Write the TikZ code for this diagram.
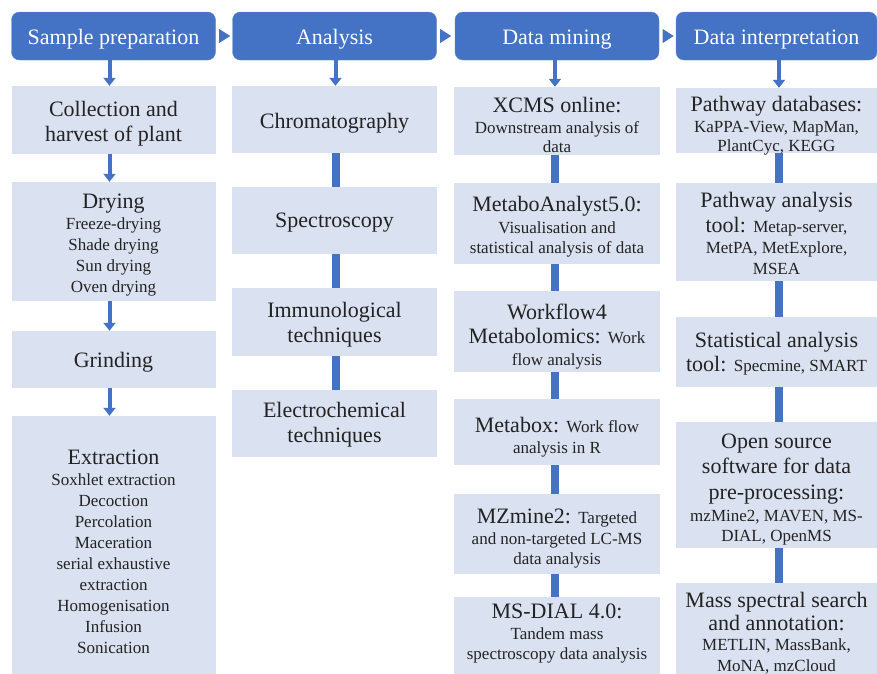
\documentclass[tikz,border=0pt]{standalone}
\usepackage{fontspec}
\setmainfont{Liberation Serif}
\usetikzlibrary{arrows.meta,calc}
\definecolor{hdr}{RGB}{68,114,196}
\definecolor{boxc}{RGB}{218,225,240}
\definecolor{txt}{RGB}{35,35,35}
\newcommand\BigT{\fontsize{22}{25}\selectfont}
\newcommand\SmT{\fontsize{17}{21}\selectfont}
% name, cx, cy, width, height, text style, first baseline, text
\newcommand\cbx[8]{%
  \node[cbox,minimum width=#4pt,minimum height=#5pt] (#1) at (#2,#3) {};
  \node[tbase,#6,anchor=north] (#1t) at (#2,#7-15) {#8};}
\begin{document}
\begin{tikzpicture}[x=1pt,y=-1pt,
 hdrbox/.style={rounded corners=8pt, fill=hdr, draw=hdr!85!white, text=white,
   font=\fontsize{22}{25}\selectfont, text height=17pt, text depth=0pt,
   minimum width=204pt, minimum height=48pt, inner sep=0pt},
 cbox/.style={fill=boxc, inner sep=0pt},
 tbase/.style={text=txt, align=center, inner sep=0pt},
 bigt/.style={font=\fontsize{22}{25}\selectfont},
 mixt/.style={font=\fontsize{17}{21}\selectfont},
 arr/.style={draw=hdr, line width=4pt, -{Triangle[width=12pt,length=8pt]}},
 bar/.style={draw=hdr, line width=8pt},
 tri/.style={fill=hdr}
]
\useasboundingbox (0,0) rectangle (877,673);
\clip (0,0) rectangle (877,673);

% headers
\node[hdrbox] (h1) at (113.5,36) {Sample preparation};
\node[hdrbox] (h2) at (334.5,36) {Analysis};
\node[hdrbox] (h3) at (557,36) {Data mining};
\node[hdrbox, minimum width=201pt] (h4) at (776.5,36) {Data interpretation};

\foreach \a in {h1,h2,h3}{
  \fill[tri] ($(\a.east)+(3.5,-7)$) -- ($(\a.east)+(14.5,0)$) -- ($(\a.east)+(3.5,7)$) -- cycle;
}

% column 1
\cbx{coll}{113.5}{120}{204}{68}{bigt}{116}{Collection and\\harvest of plant}
\cbx{dry}{113.5}{241.5}{204}{119}{mixt}{208.3}{\BigT Drying\\Freeze-drying\\Shade drying\\Sun drying\\Oven drying}
\cbx{grind}{113.5}{359.5}{204}{57}{bigt}{367}{Grinding}
\cbx{extr}{113.5}{546}{204}{260}{mixt}{465}{\BigT Extraction\\Soxhlet extraction\\Decoction\\Percolation\\Maceration\\serial exhaustive\\extraction\\Homogenisation\\Infusion\\Sonication}

% column 2
\cbx{chrom}{334.5}{119.5}{205}{67}{bigt}{128}{Chromatography}
\cbx{spec}{334.5}{220.5}{205}{67}{bigt}{228}{Spectroscopy}
\cbx{immu}{334.5}{322}{205}{68}{bigt}{317.5}{Immunological\\techniques}
\cbx{elec}{334.5}{423.5}{205}{67}{bigt}{417.5}{Electrochemical\\techniques}

% column 3
\cbx{xcms}{557}{121}{206}{68}{mixt}{111.7}{\BigT XCMS online:\\[0.5pt]Downstream analysis of\\[-2pt]data}
\cbx{mana}{557}{223.5}{206}{81}{mixt}{211}{\BigT MetaboAnalyst5.0:\\[1pt]Visualisation and\\[-1pt]statistical analysis of data}
\cbx{wf4}{557}{331.5}{206}{81}{mixt}{318.3}{\BigT Workflow4\\[4pt]\BigT Metabolomics: \SmT Work\\flow analysis}
\cbx{mbox}{557}{432}{206}{66}{mixt}{431.7}{\BigT Metabox: \SmT Work flow\\analysis in R}
\cbx{mzm}{557}{534}{206}{80}{mixt}{523.3}{\BigT MZmine2: \SmT Targeted\\[0.5pt]and non-targeted LC-MS\\[-1pt]data analysis}
\cbx{msd}{557}{636.5}{206}{79}{mixt}{618.3}{\BigT MS-DIAL 4.0:\\[0.5pt]Tandem mass\\[-1pt]spectroscopy data analysis}

% column 4
\cbx{pdb}{776.5}{120.5}{201}{65}{mixt}{110.7}{\BigT Pathway databases:\\KaPPA-View, MapMan,\\[-2pt]PlantCyc, KEGG}
\cbx{pat}{776.5}{232}{201}{98}{mixt}{207.3}{\BigT Pathway analysis\\[3.5pt]\BigT tool: \SmT Metap-server,\\MetPA, MetExplore,\\MSEA}
\cbx{sat}{776.5}{352}{201}{70}{mixt}{346.7}{\BigT Statistical analysis\\[3.5pt]\BigT tool: \SmT Specmine, SMART}
\cbx{oss}{776.5}{485}{201}{126}{mixt}{448.3}{\BigT Open source\\[4.5pt]\BigT software for data\\[5pt]\BigT pre-processing:\\[0.5pt]mzMine2, MAVEN, MS-\\[-1pt]DIAL, OpenMS}
\cbx{mss}{776.5}{629.5}{201}{93}{mixt}{606.7}{\BigT Mass spectral search\\[2.5pt]\BigT and annotation:\\[-1pt]METLIN, MassBank,\\MoNA, mzCloud}

% connectors
\draw[arr] ([xshift=-4pt]h1.south) -- ([xshift=-4pt]coll.north);
\draw[arr] ([xshift=-4pt]coll.south) -- ([xshift=-4pt]dry.north);
\draw[arr] ([xshift=-4pt]dry.south) -- ([xshift=-4pt]grind.north);
\draw[arr] ([xshift=-4pt]grind.south) -- ([xshift=-4pt]extr.north);

\draw[arr] ([xshift=1pt]h2.south) -- ([xshift=1pt]chrom.north);
\draw[bar] ([xshift=1pt]chrom.south) -- ([xshift=1pt]spec.north);
\draw[bar] ([xshift=1pt]spec.south) -- ([xshift=1pt]immu.north);
\draw[bar] ([xshift=1pt]immu.south) -- ([xshift=1pt]elec.north);

\draw[arr] ([xshift=-2pt]h3.south) -- ([xshift=-2pt]xcms.north);
\draw[bar] ([xshift=-2pt]xcms.south) -- ([xshift=-2pt]mana.north);
\draw[bar] ([xshift=-2pt]mana.south) -- ([xshift=-2pt]wf4.north);
\draw[bar] ([xshift=-2pt]wf4.south) -- ([xshift=-2pt]mbox.north);
\draw[bar] ([xshift=-2pt]mbox.south) -- ([xshift=-2pt]mzm.north);
\draw[bar] ([xshift=-2pt]mzm.south) -- ([xshift=-2pt]msd.north);

\draw[arr] ([xshift=2.5pt]h4.south) -- ([xshift=2.5pt]pdb.north);
\draw[bar] ([xshift=2.5pt]pdb.south) -- ([xshift=2.5pt]pat.north);
\draw[bar] ([xshift=2.5pt]pat.south) -- ([xshift=2.5pt]sat.north);
\draw[bar] ([xshift=2.5pt]sat.south) -- ([xshift=2.5pt]oss.north);
\draw[bar] ([xshift=2.5pt]oss.south) -- ([xshift=2.5pt]mss.north);
\end{tikzpicture}
\end{document}
